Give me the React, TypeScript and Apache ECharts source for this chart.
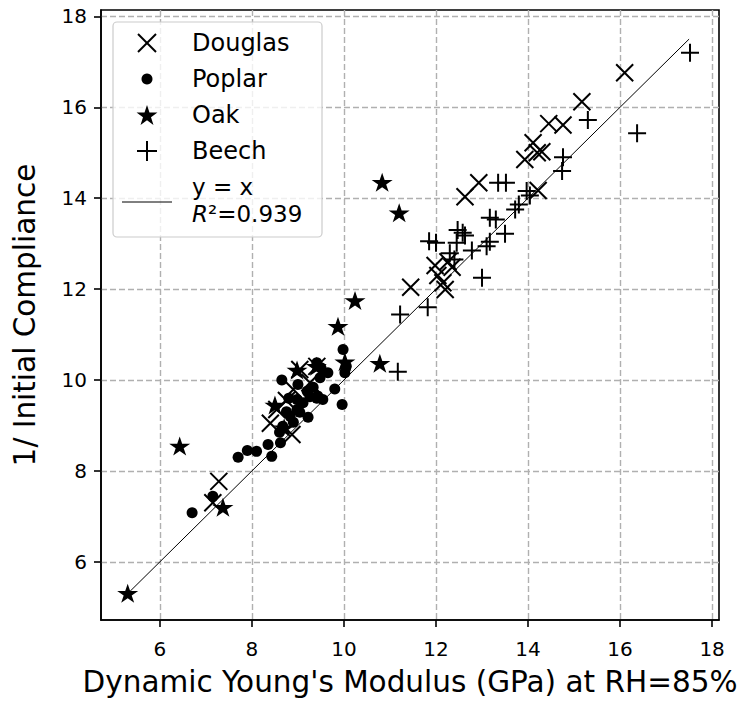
import React, { useEffect, useRef } from "react";
import * as echarts from "echarts";

const xTicks = [6, 8, 10, 12, 14, 16, 18];
const yTicks = [6, 8, 10, 12, 14, 16, 18];
const xRange = [4.72, 18.15];
const yRange = [4.72, 18.14];

const douglas: number[][] = [
  [7.15, 7.3], [7.28, 7.77], [8.4, 9.05], [8.54, 9.35], [8.75, 9.55], [8.87, 8.8],
  [8.9, 9.79], [9.04, 10.23], [9.26, 9.94], [9.41, 10.3], [11.45, 12.04], [11.98, 12.52],
  [12.04, 12.3], [12.15, 12.14], [12.2, 11.99], [12.26, 12.6], [12.35, 12.48], [12.63, 14.03],
  [12.93, 14.34], [13.93, 14.85], [14.2, 15.0], [14.11, 15.22], [14.3, 15.02], [14.22, 14.17],
  [14.45, 15.64], [14.76, 15.61], [15.17, 16.12], [16.1, 16.76],
];

const poplar: number[][] = [
  [6.7, 7.08], [7.15, 7.44], [7.7, 8.3], [7.9, 8.45], [8.1, 8.43], [8.35, 8.58],
  [8.43, 8.32], [8.62, 8.62], [8.65, 10.0], [8.6, 8.85], [8.67, 8.98], [8.83, 9.2],
  [8.9, 9.07], [8.98, 9.35], [9.04, 9.29], [9.11, 9.5], [8.98, 9.57], [9.2, 9.75],
  [9.26, 9.63], [9.33, 9.84], [9.41, 9.6], [9.43, 9.65], [9.54, 9.57], [9.22, 9.18],
  [9.48, 10.05], [9.41, 10.38], [9.5, 10.27], [9.65, 10.16], [9.8, 9.8], [9.96, 9.46],
  [9.98, 10.67], [10.02, 10.16], [10.05, 10.3], [8.8, 9.6], [9.0, 9.9], [8.75, 9.3],
];

const oak: number[][] = [
  [5.3, 5.31], [6.43, 8.55], [7.37, 7.2], [8.5, 9.45], [8.7, 8.95], [8.98, 10.22],
  [9.4, 10.3], [9.87, 11.18], [10.02, 10.4], [10.24, 11.75], [10.78, 10.37],
  [10.83, 14.35], [11.2, 13.68],
];

const beech: number[][] = [
  [11.17, 10.18], [11.22, 11.44], [11.82, 11.6], [11.85, 13.05], [12.0, 13.02],
  [12.45, 13.02], [12.47, 13.3], [12.58, 13.24], [12.63, 13.18], [12.3, 12.79],
  [12.4, 12.65], [12.78, 12.85], [13.0, 12.25], [13.1, 12.94], [13.17, 13.04],
  [13.17, 13.57], [13.3, 13.53], [13.5, 13.22], [13.72, 13.75], [13.8, 13.86],
  [13.35, 14.34], [13.52, 14.34], [13.97, 14.16], [14.04, 14.06], [14.74, 14.6],
  [14.76, 14.9], [15.3, 15.72], [16.37, 15.43], [17.52, 17.2],
];

const identityLine: number[][] = [[5.25, 5.25], [17.5, 17.5]];

const legendLabels = ["Douglas", "Poplar", "Oak", "Beech"];
const lineLabel = "y = x";
const r2Text = "=0.939";

const FONT = "DejaVu Sans";
const STAR =
  "path://M0,-1L0.2245,-0.309L0.951,-0.309L0.3633,0.118L0.588,0.809L0,0.382L-0.588,0.809L-0.3633,0.118L-0.951,-0.309L-0.2245,-0.309Z";
const XMARK = "path://M0,0L1,1M1,0L0,1";
const PLUS = "path://M0.5,0L0.5,1M0,0.5L1,0.5";

function starPoints(cx: number, cy: number, r: number): number[][] {
  const pts: number[][] = [];
  for (let i = 0; i < 10; i++) {
    const rr = i % 2 === 0 ? r : r * 0.382;
    const a = Math.PI / 2 + (i * Math.PI) / 5;
    pts.push([cx + rr * Math.cos(a), cy - rr * Math.sin(a)]);
  }
  return pts;
}

export default function App() {
  const ref = useRef<HTMLDivElement>(null);
  useEffect(() => {
    if (!ref.current) return;
    const chart = echarts.init(ref.current, undefined, { renderer: "svg" });
    const axisCommon = {
      type: "value" as const,
      axisLine: { show: true, lineStyle: { color: "#000", width: 1.6 } },
      axisTick: { show: true, inside: false, length: 7, lineStyle: { color: "#000", width: 1.6 } },
      splitLine: { show: true, lineStyle: { color: "#b0b0b0", width: 1.4, type: [6, 3] as any } },
      nameTextStyle: { fontFamily: FONT, fontSize: 29.5, color: "#000" },
    };
    const lx = 147;
    const tx = 192;
    const rows = [43, 79, 115, 151];
    const option: any = {
      animation: false,
      backgroundColor: "#fff",
      grid: {
        left: 101, top: 10, right: 18, bottom: 84,
        containLabel: false, outerBoundsMode: "none",
        show: true, borderColor: "#000", borderWidth: 1.6, backgroundColor: "transparent",
      },
      xAxis: {
        ...axisCommon,
        min: xRange[0], max: xRange[1],
        axisTick: { ...axisCommon.axisTick, customValues: xTicks },
        axisLabel: { customValues: xTicks, fontFamily: FONT, fontSize: 20, color: "#000", margin: 19 },
        name: "Dynamic Young's Modulus (GPa) at RH=85%",
        nameLocation: "middle", nameGap: 47,
      },
      yAxis: {
        ...axisCommon,
        min: yRange[0], max: yRange[1],
        axisTick: { ...axisCommon.axisTick, customValues: yTicks },
        axisLabel: { customValues: yTicks, fontFamily: FONT, fontSize: 20, color: "#000", margin: 14 },
        name: "1/ Initial Compliance",
        nameLocation: "middle", nameGap: 61, nameRotate: 90,
      },
      series: [
        {
          type: "scatter", name: "Douglas", data: douglas, symbol: XMARK, symbolSize: 17,
          itemStyle: { color: "transparent", borderColor: "#000", borderWidth: 2, opacity: 1 },
        },
        {
          type: "scatter", name: "Poplar", data: poplar, symbol: "circle", symbolSize: 11,
          itemStyle: { color: "#000", opacity: 1 },
        },
        {
          type: "scatter", name: "Oak", data: oak, symbol: STAR, symbolSize: [21, 20], symbolKeepAspect: true,
          itemStyle: { color: "#000", opacity: 1 },
        },
        {
          type: "scatter", name: "Beech", data: beech, symbol: PLUS, symbolSize: 18,
          itemStyle: { color: "transparent", borderColor: "#000", borderWidth: 2, opacity: 1 },
        },
        {
          type: "line", name: "y = x", data: identityLine, showSymbol: false, symbol: "none",
          lineStyle: { color: "#000", width: 1 },
        },
      ],
      graphic: [
        {
          type: "rect", shape: { x: 113, y: 22, width: 209, height: 215, r: 4 },
          style: { fill: "rgba(255,255,255,0.8)", stroke: "#cccccc", lineWidth: 1.2 }, z: 100,
        },
        { type: "line", shape: { x1: lx - 9, y1: rows[0] - 9, x2: lx + 9, y2: rows[0] + 9 }, style: { stroke: "#000", lineWidth: 2 }, z: 101 },
        { type: "line", shape: { x1: lx - 9, y1: rows[0] + 9, x2: lx + 9, y2: rows[0] - 9 }, style: { stroke: "#000", lineWidth: 2 }, z: 101 },
        { type: "circle", shape: { cx: lx, cy: rows[1], r: 5.5 }, style: { fill: "#000" }, z: 101 },
        { type: "polygon", shape: { points: starPoints(lx, rows[2] + 1, 11) }, style: { fill: "#000" }, z: 101 },
        { type: "line", shape: { x1: lx - 10, y1: rows[3], x2: lx + 10, y2: rows[3] }, style: { stroke: "#000", lineWidth: 2 }, z: 101 },
        { type: "line", shape: { x1: lx, y1: rows[3] - 10, x2: lx, y2: rows[3] + 10 }, style: { stroke: "#000", lineWidth: 2 }, z: 101 },
        { type: "line", shape: { x1: 122, y1: 202, x2: 172, y2: 202 }, style: { stroke: "#000", lineWidth: 1 }, z: 101 },
        ...legendLabels.map((t, i) => ({
          type: "text", x: tx, y: rows[i], z: 101,
          style: { text: t, fontFamily: FONT, fontSize: 24, fill: "#000", verticalAlign: "middle", align: "left" },
        })),
        {
          type: "text", x: tx, y: 187, z: 101,
          style: { text: lineLabel, fontFamily: FONT, fontSize: 23, fill: "#000", verticalAlign: "middle", align: "left" },
        },
        {
          type: "text", x: tx, y: 214, z: 101,
          style: {
            text: "{i|R}{n|²" + r2Text + "}", verticalAlign: "middle", align: "left",
            rich: {
              i: { fontFamily: FONT, fontSize: 23, fontStyle: "italic", fill: "#000" },
              n: { fontFamily: FONT, fontSize: 23, fill: "#000" },
            },
          },
        },
      ],
    };
    chart.setOption(option);
    return () => chart.dispose();
  }, []);
  return (
    <div
      ref={ref}
      style={{ position: "absolute", left: 0, top: 0, width: 737, height: 704, background: "#fff" }}
    />
  );
}
